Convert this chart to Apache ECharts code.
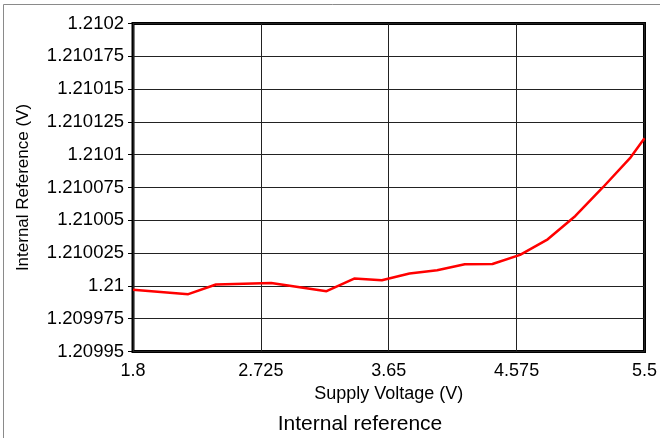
<!DOCTYPE html>
<html>
<head>
<meta charset="utf-8">
<script src="https://cdn.jsdelivr.net/npm/echarts@6/dist/echarts.min.js"></script>
<style>
  html, body { margin: 0; padding: 0; background: #fff; }
  #chart { width: 660px; height: 438px; }
</style>
</head>
<body>
<div id="chart"></div>
<script>
// Supply voltage sweep (V)
const supplyVoltage = [1.8, 2.2, 2.4, 2.8, 3.2, 3.4, 3.6, 3.8, 4.0, 4.2, 4.4, 4.6, 4.8, 5.0, 5.2, 5.4, 5.5];
// Measured internal reference output (V)
const internalRef = [
  1.209997, 1.2099937, 1.2100011, 1.2100022, 1.209996, 1.2100056, 1.2100043,
  1.2100095, 1.210012, 1.2100165, 1.2100167, 1.2100236, 1.2100355, 1.2100533,
  1.2100752, 1.210098, 1.2101125
];
// Axis tick labels
const xTickLabels = ['1.8', '2.725', '3.65', '4.575', '5.5'];
const yTickLabels = ['1.20995', '1.209975', '1.21', '1.210025', '1.21005', '1.210075',
  '1.2101', '1.210125', '1.21015', '1.210175', '1.2102'];

const X_MIN = 1.8, X_MAX = 5.5, X_STEP = 0.925;
const Y_MIN = 1.20995, Y_MAX = 1.2102, Y_STEP = 0.000025;
const FONT = "'Liberation Sans', Arial, sans-serif";

const chart = echarts.init(document.getElementById('chart'));
chart.setOption({
  animation: false,
  backgroundColor: '#fff',
  grid: {
    left: 133, right: 15, top: 23.5, bottom: 86.5,
    show: true, borderColor: '#000', borderWidth: 3, backgroundColor: 'transparent'
  },
  xAxis: {
    type: 'value',
    min: X_MIN, max: X_MAX, interval: X_STEP,
    name: 'Supply Voltage (V)',
    nameLocation: 'middle',
    nameGap: 30,
    nameTextStyle: { fontFamily: FONT, fontSize: 18, color: '#000' },
    axisLine: { show: false },
    axisTick: { show: false },
    axisLabel: {
      margin: 11,
      fontFamily: FONT, fontSize: 18, color: '#000',
      formatter: v => xTickLabels[Math.round((v - X_MIN) / X_STEP)]
    },
    splitLine: { show: true, lineStyle: { color: '#222', width: 1 } }
  },
  yAxis: {
    type: 'value',
    min: Y_MIN, max: Y_MAX, interval: Y_STEP,
    name: 'Internal Reference (V)',
    nameLocation: 'middle',
    nameGap: 101,
    nameTextStyle: { fontFamily: FONT, fontSize: 17, color: '#000' },
    axisLine: { show: false },
    axisTick: { show: true, inside: false, length: 5, lineStyle: { color: '#000' } },
    axisLabel: {
      margin: 9,
      fontFamily: FONT, fontSize: 18.5, color: '#000',
      formatter: v => yTickLabels[Math.round((v - Y_MIN) / Y_STEP)]
    },
    splitLine: { show: true, lineStyle: { color: '#222', width: 1 } }
  },
  series: [{
    type: 'line',
    data: supplyVoltage.map((x, i) => [x, internalRef[i]]),
    showSymbol: false,
    lineStyle: { color: '#ff0000', width: 2.5 },
    itemStyle: { color: '#ff0000' }
  }],
  graphic: [
    {
      type: 'rect',
      shape: { x: 3.5, y: 4.5, width: 700, height: 500 },
      style: { fill: 'none', stroke: '#8a8a8a', lineWidth: 1 },
      silent: true
    },
    {
      type: 'text',
      x: 360, y: 424,
      style: {
        text: 'Internal reference',
        fontFamily: FONT, fontSize: 21, fill: '#000',
        textAlign: 'center', textVerticalAlign: 'middle'
      },
      silent: true
    }
  ]
});
</script>
</body>
</html>
